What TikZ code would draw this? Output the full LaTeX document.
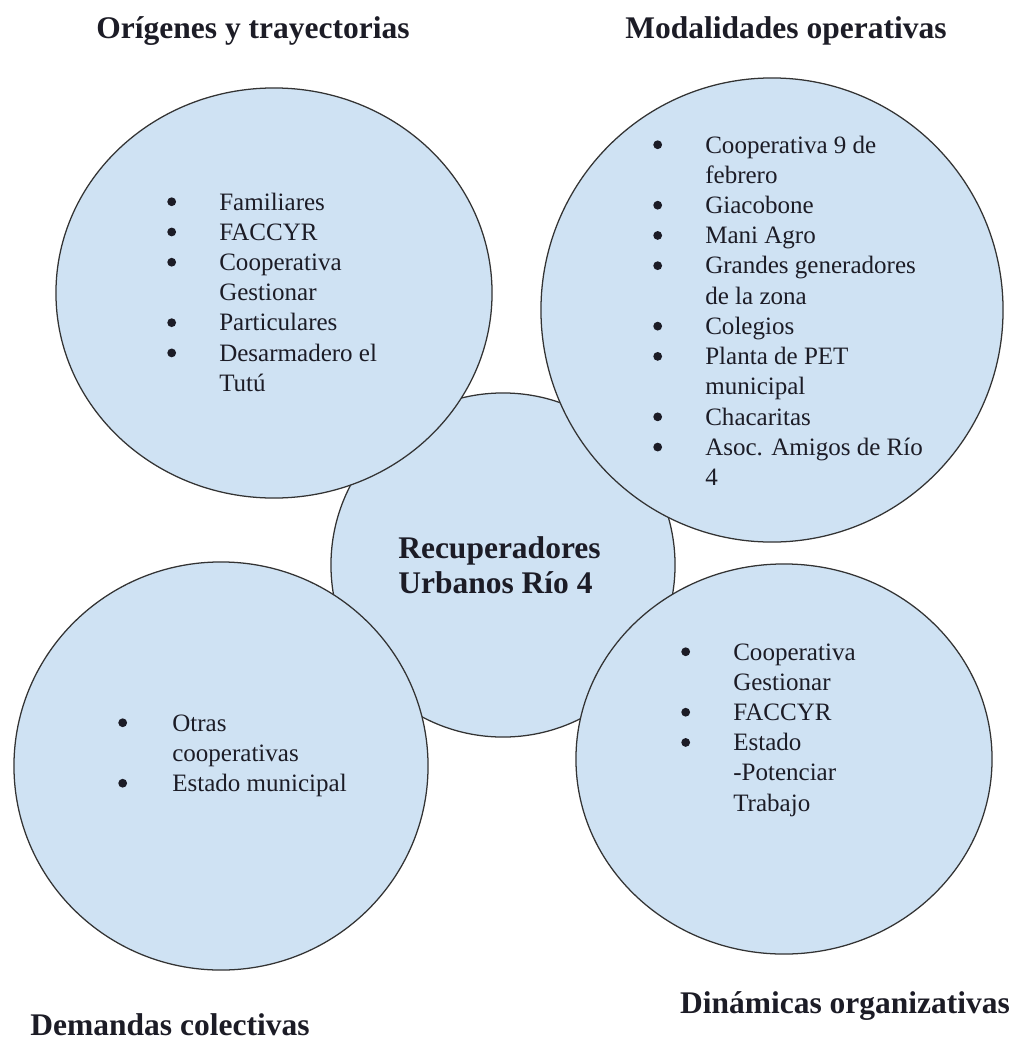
\documentclass[tikz,border=0pt]{standalone}
\usepackage{fontspec}
\setmainfont{Liberation Serif}
\usetikzlibrary{shapes.geometric}

\definecolor{celeste}{HTML}{CFE2F3}
\definecolor{tinta}{HTML}{1C1C26}

\tikzset{
  burbuja/.style={ellipse, draw=black!80, line width=0.9pt, fill=celeste, inner sep=0pt},
  titulo/.style={font=\fontsize{22.4}{25}\selectfont\bfseries, text=tinta, anchor=base, inner sep=0pt},
  lista/.style={font=\fontsize{17.8}{21.5}\selectfont, text=tinta, anchor=base west, inner sep=0pt}
}
% round list mark, centred on the capital height
\newcommand{\punto}{\tikz[baseline=0pt]\fill[tinta] (0,0.33em) circle[radius=0.11cm];}

\begin{document}
\begin{tikzpicture}[x=0.025cm,y=-0.025cm]
\useasboundingbox (0,0) rectangle (1015,1046);

\coordinate (C) at (503,565);
\coordinate (TL) at (274,293);
\coordinate (TR) at (772,310);
\coordinate (BL) at (221,766);
\coordinate (BR) at (784,759);

% centre first, the four around it go on top
\node[burbuja, minimum width=8.6cm, minimum height=8.6cm] (centro) at (C) {};
\node[burbuja, minimum width=10.9cm, minimum height=10.25cm] (origenes) at (TL) {};
\node[burbuja, minimum width=11.55cm, minimum height=11.6cm] (modalidades) at (TR) {};
\node[burbuja, minimum width=10.35cm, minimum height=10.2cm] (demandas) at (BL) {};
\node[burbuja, minimum width=10.4cm, minimum height=9.75cm] (dinamicas) at (BR) {};

\node[titulo, anchor=base west] (nombre) at (398,558)
  {\begin{tabular}[t]{@{}l@{}}Recuperadores\\Urbanos Río 4\end{tabular}};

\node[lista] (lorigenes) at (167,210) {\begin{tabular}[t]{@{}p{1.3cm}@{}l@{}}
\punto & Familiares\\
\punto & FACCYR\\
\punto & Cooperativa\\
 & Gestionar\\
\punto & Particulares\\
\punto & Desarmadero el\\
 & Tutú
\end{tabular}};

\node[lista] (lmodalidades) at (653,153) {\begin{tabular}[t]{@{}p{1.3cm}@{}l@{}}
\punto & Cooperativa 9 de\\
 & febrero\\
\punto & Giacobone\\
\punto & Mani Agro\\
\punto & Grandes generadores\\
 & de la zona\\
\punto & Colegios\\
\punto & Planta de PET\\
 & municipal\\
\punto & Chacaritas\\
\punto & Asoc. Amigos de Río\\
 & 4
\end{tabular}};

\node[lista] (ldemandas) at (118,731) {\begin{tabular}[t]{@{}p{1.35cm}@{}l@{}}
\punto & Otras\\
 & cooperativas\\
\punto & Estado municipal
\end{tabular}};

\node[lista] (ldinamicas) at (681,660) {\begin{tabular}[t]{@{}p{1.3cm}@{}l@{}}
\punto & Cooperativa\\
 & Gestionar\\
\punto & FACCYR\\
\punto & Estado\\
 & -Potenciar\\
 & Trabajo
\end{tabular}};

\node[titulo] (torigenes) at (253,38) {Orígenes y trayectorias};
\node[titulo] (tmodalidades) at (786,38) {Modalidades operativas};
\node[titulo] (tdemandas) at (170,1035) {Demandas colectivas};
\node[titulo] (tdinamicas) at (845,1013) {Dinámicas organizativas};

\end{tikzpicture}
\end{document}
